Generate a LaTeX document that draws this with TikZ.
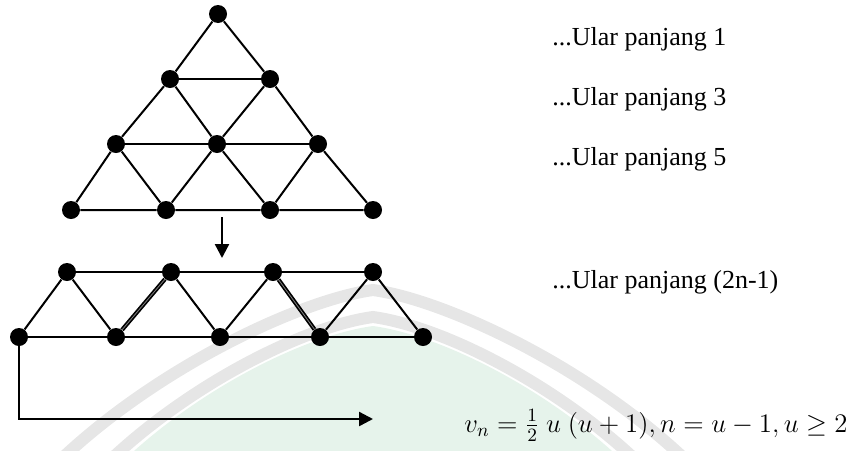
\RequirePackage{fix-cm}
\documentclass[tikz,border=0pt]{standalone}
\usepackage{fontspec}
\setmainfont{Liberation Serif}
\usepackage{amsmath}
\usetikzlibrary{arrows.meta}

\definecolor{wmgreen}{HTML}{E6F3EB}
\definecolor{wmgray}{HTML}{E6E6E6}

\begin{document}
\begin{tikzpicture}[
  x=0.5pt,y=-0.5pt,
  vtx/.style={circle,fill=black,inner sep=0pt,minimum size=9pt},
  edge/.style={line width=1pt},
  dbl/.style={double=gray,line width=0.85pt,double distance=0.4pt},
  arr/.style={-{Triangle[length=7pt,width=7pt]},line width=1.2pt},
  lenlabel/.style={anchor=base west,inner sep=0pt,font=\fontsize{13}{15}\selectfont},
  wmband/.style={line width=6pt,draw=wmgray}
]
  \useasboundingbox (0,0) rectangle (854,450);

  % faint watermark behind the drawing
  \begin{scope}
    \clip (0,0) rectangle (854,450);
    \fill[wmgreen] (373,326) .. controls (300,336) and (185,396) .. (108,476)
      -- (638,476) .. controls (561,396) and (446,336) .. (373,326);
    \draw[wmband] (50,470) .. controls (150,370) and (300,300) .. (373,290)
      .. controls (446,300) and (596,370) .. (696,470);
    \draw[wmband] (100,470) .. controls (180,390) and (300,327) .. (373,317)
      .. controls (446,327) and (566,390) .. (646,470);
  \end{scope}

  % triangle of points
  \node[vtx] (a) at (218,14) {};
  \node[vtx] (b1) at (170,79) {};
  \node[vtx] (b2) at (270,79) {};
  \node[vtx] (c1) at (116,144) {};
  \node[vtx] (c2) at (217,144) {};
  \node[vtx] (c3) at (318,144) {};
  \node[vtx] (d1) at (71,210) {};
  \node[vtx] (d2) at (166,210) {};
  \node[vtx] (d3) at (270,210) {};
  \node[vtx] (d4) at (373,210) {};

  \draw[edge] (a) -- (b1) -- (c1) -- (d1) -- (d2) -- (d3) -- (d4) -- (c3) -- (b2) -- (a);
  \draw[edge] (b1) -- (b2);
  \draw[edge] (c1) -- (c2) -- (c3);
  \draw[edge] (b1) -- (c2) -- (d3);
  \draw[edge] (b2) -- (c2) -- (d2);
  \draw[edge] (c1) -- (d2);
  \draw[edge] (c3) -- (d3);

  % strip of points
  \node[vtx] (u1) at (67,272) {};
  \node[vtx] (u2) at (171,272) {};
  \node[vtx] (u3) at (273,272) {};
  \node[vtx] (u4) at (373,272) {};
  \node[vtx] (l1) at (19,337) {};
  \node[vtx] (l2) at (116,337) {};
  \node[vtx] (l3) at (220,337) {};
  \node[vtx] (l4) at (320,337) {};
  \node[vtx] (l5) at (423,337) {};

  \draw[edge] (u1) -- (u2) -- (u3) -- (u4);
  \draw[edge] (l1) -- (l2) -- (l3) -- (l4) -- (l5);
  \draw[edge] (l1) -- (u1) -- (l2);
  \draw[edge] (u2) -- (l3) -- (u3);
  \draw[edge] (l4) -- (u4) -- (l5);
  \draw[dbl] (l2) -- (u2);
  \draw[dbl] (u3) -- (l4);

  % arrows
  \coordinate (dfrom) at (222,217);
  \coordinate (dto) at (222,258);
  \coordinate (tip) at (373,419);
  \draw[arr] (dfrom) -- (dto);
  \draw[arr] (l1) |- (tip);

  % labels
  \node[lenlabel] (len1) at (552,45) {...Ular panjang 1};
  \node[lenlabel] (len3) at (552,105) {...Ular panjang 3};
  \node[lenlabel] (len5) at (552,165) {...Ular panjang 5};
  \node[lenlabel] (lenn) at (552,288) {...Ular panjang (2n-1)};
  \node[lenlabel,anchor=base east,font=\fontsize{13.4}{16}\selectfont] (vn) at (848,432)
    {$v_n=\tfrac{1}{2}\ u\ (u+1), n=u-1, u\geq 2$};
\end{tikzpicture}
\end{document}
